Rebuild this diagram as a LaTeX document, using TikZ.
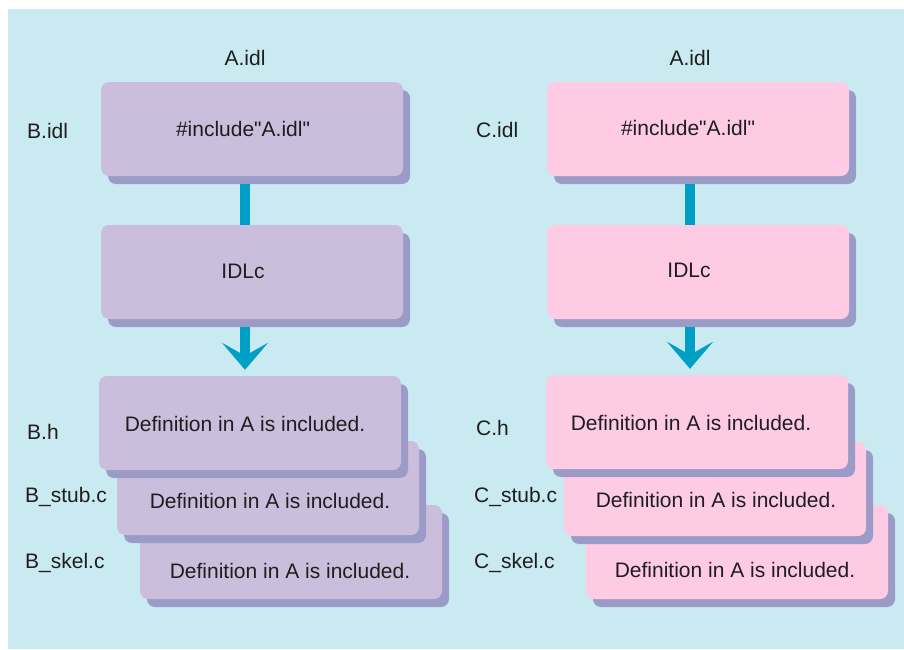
\documentclass[tikz,border=0pt]{standalone}
\usepackage{fontspec}
\setmainfont{Liberation Sans}
\usetikzlibrary{arrows.meta, shadows}

\definecolor{panelblue}{RGB}{201,234,241}
\definecolor{lavender}{RGB}{203,190,220}
\definecolor{pinkcard}{RGB}{253,203,228}
\definecolor{shadowblue}{RGB}{155,155,200}
\definecolor{linkteal}{RGB}{0,160,198}
\definecolor{txtgray}{RGB}{30,30,30}

\begin{document}
\begin{tikzpicture}[
        x=1pt, y=-1pt,
        every node/.style={font=\fontsize{21}{25}\selectfont, text=txtgray, inner sep=0pt},
        card/.style={rectangle, rounded corners=8pt, minimum width=302pt, minimum height=94pt,
            drop shadow={shadow xshift=7pt, shadow yshift=-8pt, fill=shadowblue, opacity=1}},
        bcard/.style={card, fill=lavender},
        ccard/.style={card, fill=pinkcard},
        filename/.style={anchor=west},
        link/.style={draw=linkteal, line width=10pt, shorten <=8pt},
        flow/.style={link, -{Stealth[length=27pt, width=46pt, inset=13pt]}, shorten >=6pt}
    ]
        \useasboundingbox (0,0) rectangle (904,649);
        \fill[panelblue] (8,9) rectangle (904,649);

        % Cột B
        \node (atopb) at (245,58) {A.idl};
        \node[bcard] (bidl) at (252,129) {};
        \node (bidltext) at (243,129) {\#include\textquotedbl A.idl\textquotedbl};
        \node[bcard] (bidlc) at (252,272) {};
        \node (bidlctext) at (243,271) {IDLc};
        \node[bcard] (bskel) at (291,552) {};
        \node (bskeltext) at (290,571) {Definition in A is included.};
        \node[bcard] (bstub) at (268,488) {};
        \node (bstubtext) at (270,501) {Definition in A is included.};
        \node[bcard] (bh) at (250,423) {};
        \node (bhtext) at (245,424) {Definition in A is included.};

        \node[filename] (bidlname) at (27,131) {B.idl};
        \node[filename] (bhname) at (27,432) {B.h};
        \node[filename] (bstubname) at (25,497) {B\_stub.c};
        \node[filename] (bskelname) at (25,563) {B\_skel.c};

        \draw[link] ([xshift=-7pt]bidl.south) -- ([xshift=-7pt]bidlc.north);
        \draw[flow] ([xshift=-7pt]bidlc.south) -- ([xshift=-5pt]bh.north);

        % Cột C
        \node (atopc) at (690,58) {A.idl};
        \node[ccard] (cidl) at (698,129) {};
        \node (cidltext) at (688,128) {\#include\textquotedbl A.idl\textquotedbl};
        \node[ccard] (cidlc) at (698,272) {};
        \node (cidlctext) at (689,270) {IDLc};
        \node[ccard] (cskel) at (737,552) {};
        \node (cskeltext) at (735,570) {Definition in A is included.};
        \node[ccard] (cstub) at (715,489) {};
        \node (cstubtext) at (716,500) {Definition in A is included.};
        \node[ccard] (ch) at (697,422) {};
        \node (chtext) at (691,423) {Definition in A is included.};

        \node[filename] (cidlname) at (476,130) {C.idl};
        \node[filename] (chname) at (476,428) {C.h};
        \node[filename] (cstubname) at (474,497) {C\_stub.c};
        \node[filename] (cskelname) at (474,563) {C\_skel.c};

        \draw[link] ([xshift=-8pt]cidl.south) -- ([xshift=-8pt]cidlc.north);
        \draw[flow] ([xshift=-8pt]cidlc.south) -- ([xshift=-7pt]ch.north);
    \end{tikzpicture}
\end{document}
